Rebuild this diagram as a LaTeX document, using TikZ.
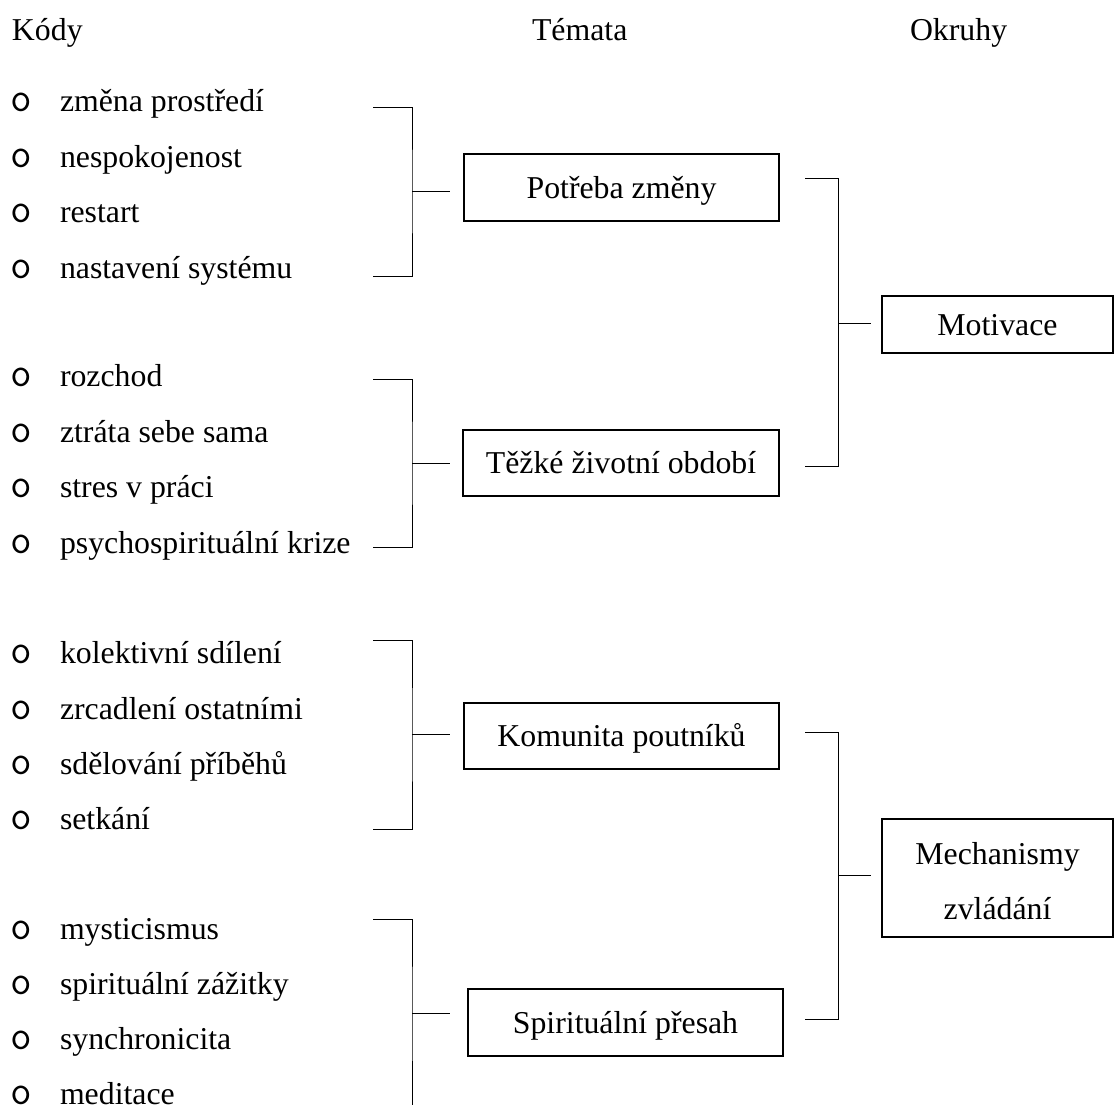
\documentclass[tikz,border=0pt]{standalone}
\usepackage{fontspec}
\setmainfont{Liberation Serif}
\newcommand\itm[1]{\makebox[50pt][l]{\ttfamily\fontsize{42}{42}\selectfont o}#1}
\begin{document}
\begin{tikzpicture}[x=1pt,y=-1pt,
  every node/.style={inner sep=0pt, outer sep=0pt, font=\fontsize{31.8}{55.5}\selectfont},
  item/.style={anchor=base west},
  box/.style={draw, line width=1.8pt, text height=21pt, text depth=0pt},
  wire/.style={line width=0.9pt}]
\useasboundingbox (0,0) rectangle (1115,1104);
% headers
\node[anchor=base west] (hk) at (12,40) {Kódy};
\node[anchor=base west] (ht) at (532,40) {Témata};
\node[anchor=base west] (ho) at (910,40) {Okruhy};
% codes
\node[item] (c11) at (10,111) {\itm{změna prostředí}};
\node[item] (c12) at (10,167) {\itm{nespokojenost}};
\node[item] (c13) at (10,222) {\itm{restart}};
\node[item] (c14) at (10,278) {\itm{nastavení systému}};
\node[item] (c21) at (10,386) {\itm{rozchod}};
\node[item] (c22) at (10,442) {\itm{ztráta sebe sama}};
\node[item] (c23) at (10,497) {\itm{stres v práci}};
\node[item] (c24) at (10,553) {\itm{psychospirituální krize}};
\node[item] (c31) at (10,663) {\itm{kolektivní sdílení}};
\node[item] (c32) at (10,719) {\itm{zrcadlení ostatními}};
\node[item] (c33) at (10,774) {\itm{sdělování příběhů}};
\node[item] (c34) at (10,829) {\itm{setkání}};
\node[item] (c41) at (10,939) {\itm{mysticismus}};
\node[item] (c42) at (10,994) {\itm{spirituální zážitky}};
\node[item] (c43) at (10,1049) {\itm{synchronicita}};
\node[item] (c44) at (10,1104) {\itm{meditace}};
% themes
\node[box, minimum width=315, minimum height=67] (t1) at (621.5,187.5) {Potřeba změny};
\node[box, minimum width=316, minimum height=66] (t2) at (621,463) {Těžké životní období};
\node[box, minimum width=315, minimum height=66] (t3) at (621.5,736) {Komunita poutníků};
\node[box, minimum width=315, minimum height=67] (t4) at (625.5,1022.5) {Spirituální přesah};
% areas
\node[box, minimum width=231, minimum height=57] (o1) at (997.5,324.5) {Motivace};
\node[box, minimum width=231, minimum height=118, align=center, text height=83pt] (o2) at (997.5,878) {Mechanismy\\zvládání};
% bracket coordinates
\coordinate (a1t) at (373,107);  \coordinate (a1b) at (373,276);
\coordinate (a1m) at (412,191);  \coordinate (a1e) at (450,191);
\coordinate (a2t) at (373,379);  \coordinate (a2b) at (373,547);
\coordinate (a2m) at (412,463);  \coordinate (a2e) at (450,463);
\coordinate (a3t) at (373,640);  \coordinate (a3b) at (373,829);
\coordinate (a3m) at (412,734.5);\coordinate (a3e) at (450,734.5);
\coordinate (a4t) at (373,919);  \coordinate (a4b) at (412,1110);
\coordinate (a4m) at (412,1013); \coordinate (a4e) at (450,1013);
\coordinate (m1t) at (805,178);  \coordinate (m1b) at (805,466);
\coordinate (m1m) at (838,323);  \coordinate (m1e) at (871,323);
\coordinate (m2t) at (805,732);  \coordinate (m2b) at (805,1019);
\coordinate (m2m) at (838,875);  \coordinate (m2e) at (871,875);
% brackets
\draw[wire] (a1t) -| (a1m) |- (a1b);  \draw[wire] (a1m) -- (a1e);
\draw[wire] (a2t) -| (a2m) |- (a2b);  \draw[wire] (a2m) -- (a2e);
\draw[wire] (a3t) -| (a3m) |- (a3b);  \draw[wire] (a3m) -- (a3e);
\draw[wire] (a4t) -| (a4m) -- (a4b);  \draw[wire] (a4m) -- (a4e);
\draw[wire] (m1t) -| (m1m) |- (m1b);  \draw[wire] (m1m) -- (m1e);
\draw[wire] (m2t) -| (m2m) |- (m2b);  \draw[wire] (m2m) -- (m2e);
\end{tikzpicture}
\end{document}
